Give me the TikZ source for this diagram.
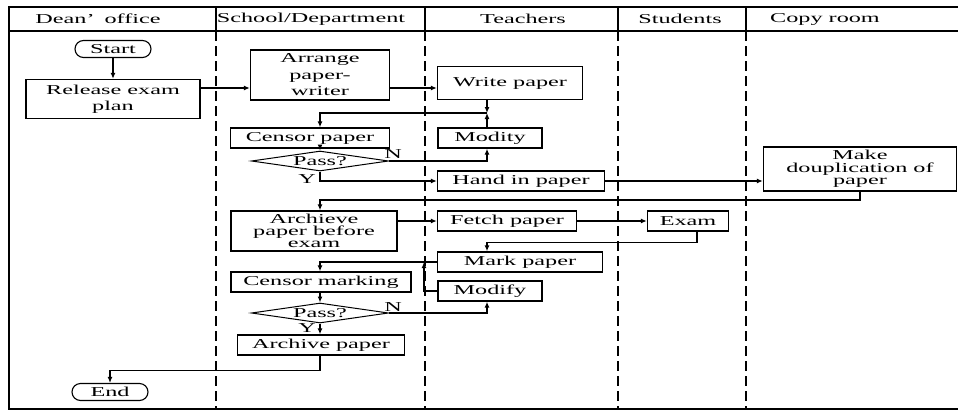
\documentclass[tikz,border=0pt]{standalone}
\usepackage{fontspec}
\setmainfont{Liberation Serif}[FakeStretch=1.78]
\usepackage{tikz}
\usetikzlibrary{calc, shapes, arrows, arrows.meta}

\tikzset{
	box/.style={draw, line width=1.4pt, inner sep=0pt, minimum height=20pt, align=center},
	term/.style={box, line width=1.1pt, rounded corners=8.5pt, minimum height=17pt},
	cond/.style={draw, diamond, aspect=6.8, inner sep=0pt, line width=1pt, minimum width=137pt, minimum height=20pt},
	lane/.style={line width=1.2pt, dash pattern=on 10pt off 5pt},
	flow/.style={line width=1.3pt, ->, >={Latex[length=6pt,width=5pt]}},
	tight/.style={font=\fontsize{13.6pt}{12.3pt}\selectfont}
}

\begin{document}
\begin{tikzpicture}[x=1pt, y=-1pt, every node/.style={font=\fontsize{13.6pt}{16.5pt}\selectfont}]
	\useasboundingbox (0,0) rectangle (958,410);
	
	% frame and lanes
	\draw [line width=1.3pt] (958,7) -- (9,7) -- (9,409) -- (958,409);
	\draw [line width=1.3pt] (9,31) -- (958,31);
	\foreach \x in {216,425,618,746} {
		\draw [line width=1.2pt] (\x,7) -- (\x,31);
		\draw [lane] (\x,31) -- (\x,409);
	}
	
	\node (hdean) at (98,19) {Dean’\hspace{10pt}office};
	\node (hschool) at (311,19) {School/Department};
	\node (hteach) at (523,19) {Teachers};
	\node (hstud) at (680,19) {Students};
	\node (hcopy) at (825,19) {Copy room};
	
	% steps
	\node (start) at (113,49) [term, minimum width=76pt] {Start};
	\node (release) at (113,99) [box, minimum width=174pt, minimum height=39pt] {Release exam\\plan};
	\node (arrange) at (320,75) [box, minimum width=139pt, minimum height=50pt] {Arrange\\paper-\\writer};
	\node (write) at (510,83) [box, minimum width=145pt, minimum height=33pt] {Write paper};
	\node (censorp) at (310,138) [box, minimum width=159pt] {Censor paper};
	\node (pass1) at (320,161) [cond] {Pass?};
	\node (modity) at (490,138) [box, minimum width=104pt] {Modity};
	\node (hand) at (521,181) [box, minimum width=167pt] {Hand in paper};
	\node (make) at (860,169) [box, tight, minimum width=193pt, minimum height=44pt] {Make\\douplication of\\paper};
	\node (archieve) at (314,231) [box, tight, minimum width=166pt, minimum height=40pt] {Archieve\\paper before\\exam};
	\node (fetch) at (507,221) [box, minimum width=139pt] {Fetch paper};
	\node (exam) at (688,221) [box, minimum width=81pt] {Exam};
	\node (mark) at (520,262) [box, minimum width=165pt] {Mark paper};
	\node (modify) at (490,291) [box, minimum width=104pt] {Modify};
	\node (censorm) at (321,282) [box, minimum width=180pt] {Censor marking};
	\node (pass2) at (320,313) [cond] {Pass?};
	\node (archive) at (321,345) [box, minimum width=167pt] {Archive paper};
	\node (end) at (110,392) [term, minimum width=76pt] {End};
	
	\node (n1) at (393,154) {N};
	\node (y1) at (307,179) {Y};
	\node (n2) at (393,307) {N};
	\node (y2) at (307,328) {Y};
	
	\coordinate (j1) at (487,113);
	\coordinate (j2) at (424,262);
	
	% flow
	\draw [flow] (start) -- (release);
	\draw [flow] (release.east |- 0,88) -- (arrange.west |- 0,88);
	\draw [flow] (arrange.east |- 0,88) -- (write.west |- 0,88);
	\draw [flow] (write.south -| j1) -- (j1);
	\draw [flow] (modity.north -| j1) -- (j1);
	\draw [flow] (j1) -| (censorp.north -| pass1.north);
	\draw [flow] (censorp.south -| pass1.north) -- (pass1.north);
	\draw [flow] (pass1.east) -| (modity.south -| j1);
	\draw [flow] (pass1.south) |- (hand.west);
	\draw [flow] (hand.east) -- (hand.east -| make.west);
	\draw [flow] (make.south) -- (make.south |- 0,200) -| (archieve.north -| pass1.north);
	\draw [flow] (archieve.east |- fetch.west) -- (fetch.west);
	\draw [flow] (fetch.east) -- (exam.west);
	\draw [flow] ([xshift=9pt]exam.south) -- ++(0,11) -| (mark.north -| j1);
	\draw [flow] (mark.west) -| (censorm.north -| pass2.north);
	\draw [flow] (modify.west) -| (j2);
	\draw [flow] (censorm.south -| pass2.north) -- (pass2.north);
	\draw [flow] (pass2.east) -| (modify.south -| j1);
	\draw [flow] (pass2.south) -- (archive.north -| pass2.south);
	\draw [flow] (archive.south -| pass2.south) -- ++(0,15) -| (end.north);
\end{tikzpicture}
\end{document}
